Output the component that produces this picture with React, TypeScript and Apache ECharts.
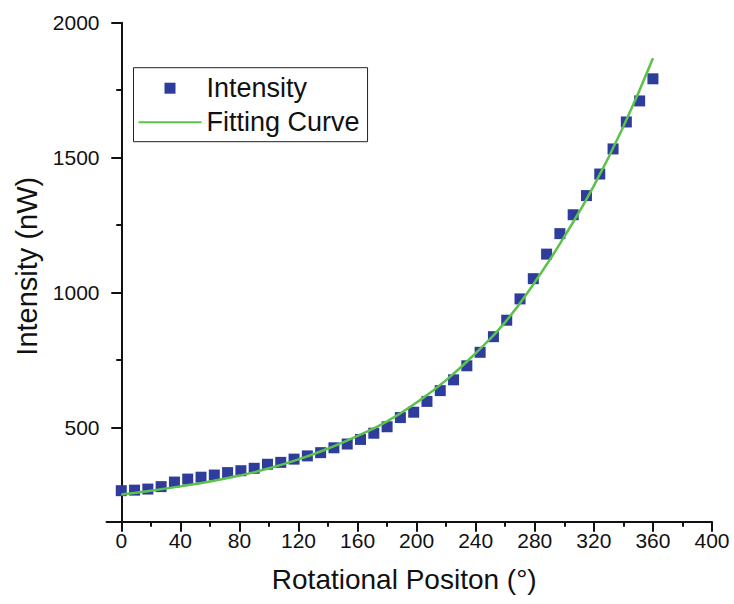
import React, { useEffect, useRef } from "react";
import * as echarts from "echarts";

const positions = [0, 9, 18, 27, 36, 45, 54, 63, 72, 81, 90, 99, 108, 117, 126, 135, 144, 153, 162, 171, 180, 189, 198, 207, 216, 225, 234, 243, 252, 261, 270, 279, 288, 297, 306, 315, 324, 333, 342, 351, 360];
const intensity = [265, 267, 271, 280, 297, 308, 315, 323, 332, 339, 348, 363, 370, 382, 394, 406, 424, 438, 455, 478, 502, 536, 556, 596, 636, 676, 728, 778, 836, 897, 976, 1051, 1142, 1218, 1288, 1359, 1439, 1532, 1632, 1710, 1792];
const fitPositions = [0, 20, 40, 60, 80, 100, 120, 140, 160, 180, 200, 220, 240, 260, 280, 300, 320, 340, 360];
const fitIntensity = [251, 265, 281, 299, 321, 348, 381, 421, 468, 522, 592, 675, 775, 890, 1038, 1207, 1395, 1615, 1868];
const xMajorTicks = [0, 40, 80, 120, 160, 200, 240, 280, 320, 360, 400];
const xMinorTicks = [20, 60, 100, 140, 180, 220, 260, 300, 340, 380];
const yMajorTicks = [500, 1000, 1500, 2000];
const yMinorTicks = [250, 750, 1250, 1750];

const FONT = "'Liberation Sans', Arial, sans-serif";
const BLUE = "#2e3d9c";
const GREEN = "#5cc24a";

export default function App() {
  const ref = useRef<HTMLDivElement>(null);
  useEffect(() => {
    if (!ref.current) return;
    const chart = echarts.init(ref.current, null, { renderer: "svg" });
    const axisLine = { show: true, lineStyle: { color: "#111", width: 2 } };
    const xBase = { type: "value", min: -10, max: 400, gridIndex: 0, position: "bottom", splitLine: { show: false } };
    const yBase = { type: "value", min: 150, max: 2000, gridIndex: 0, position: "left", splitLine: { show: false } };
    chart.setOption({
      animation: false,
      backgroundColor: "#fff",
      textStyle: { fontFamily: FONT },
      grid: { left: 106.5, right: 22, top: 22.7, bottom: 82.3, containLabel: false },
      legend: {
        orient: "vertical",
        left: 133.5,
        top: 67.7,
        padding: [7, 8, 6, 4],
        itemGap: 7,
        itemWidth: 63,
        itemHeight: 11,
        borderColor: "#222",
        borderWidth: 1,
        textStyle: { fontSize: 27, color: "#111", fontFamily: FONT },
        data: [
          { name: "Intensity", icon: "path://M0,0h10v10h-10z" },
          { name: "Fitting Curve", itemStyle: { color: "rgba(0,0,0,0)", borderWidth: 0, opacity: 0 } },
        ],
      },
      xAxis: [
        {
          ...xBase,
          name: "Rotational Positon (°)",
          nameLocation: "middle",
          nameGap: 44,
          nameTextStyle: { fontSize: 28, color: "#111", fontFamily: FONT, padding: [0, 10, 0, 0] },
          axisLine,
          axisTick: { show: true, inside: false, length: 10, customValues: xMajorTicks, lineStyle: { color: "#111", width: 2 } },
          axisLabel: { show: true, customValues: xMajorTicks, fontSize: 21, color: "#111", margin: 8, fontFamily: FONT },
        },
        {
          ...xBase,
          axisLine: { show: false },
          axisTick: { show: true, length: 5, customValues: xMinorTicks, lineStyle: { color: "#111", width: 2 } },
          axisLabel: { show: false },
        },
      ],
      yAxis: [
        {
          ...yBase,
          name: "Intensity (nW)",
          nameLocation: "middle",
          nameGap: 60,
          nameRotate: 90,
          nameTextStyle: { fontSize: 29, color: "#111", fontFamily: FONT, padding: [0, 0, 0, 12] },
          axisLine,
          axisTick: { show: true, inside: false, length: 10, customValues: yMajorTicks, lineStyle: { color: "#111", width: 2 } },
          axisLabel: {
            show: true,
            customValues: yMajorTicks,
            fontSize: 21,
            color: "#111",
            margin: 7,
            fontFamily: FONT,
            formatter: (v: number) => String(v),
          },
        },
        {
          ...yBase,
          axisLine: { show: false },
          axisTick: { show: true, length: 5, customValues: yMinorTicks, lineStyle: { color: "#111", width: 2 } },
          axisLabel: { show: false },
        },
      ],
      series: [
        {
          name: "Intensity",
          type: "scatter",
          xAxisIndex: 0,
          yAxisIndex: 0,
          symbol: "rect",
          symbolSize: 11,
          itemStyle: { color: BLUE, opacity: 1 },
          data: positions.map((p, i) => [p, intensity[i]]),
          z: 2,
        },
        {
          name: "Fitting Curve",
          type: "line",
          xAxisIndex: 0,
          yAxisIndex: 0,
          symbol: "none",
          smooth: true,
          lineStyle: { color: GREEN, width: 2.5 },
          itemStyle: { color: GREEN },
          data: fitPositions.map((p, i) => [p, fitIntensity[i]]),
          z: 3,
        },
      ],
    });
    return () => chart.dispose();
  }, []);
  return <div ref={ref} style={{ position: "absolute", left: 0, top: 0, width: 734, height: 604 }} />;
}
